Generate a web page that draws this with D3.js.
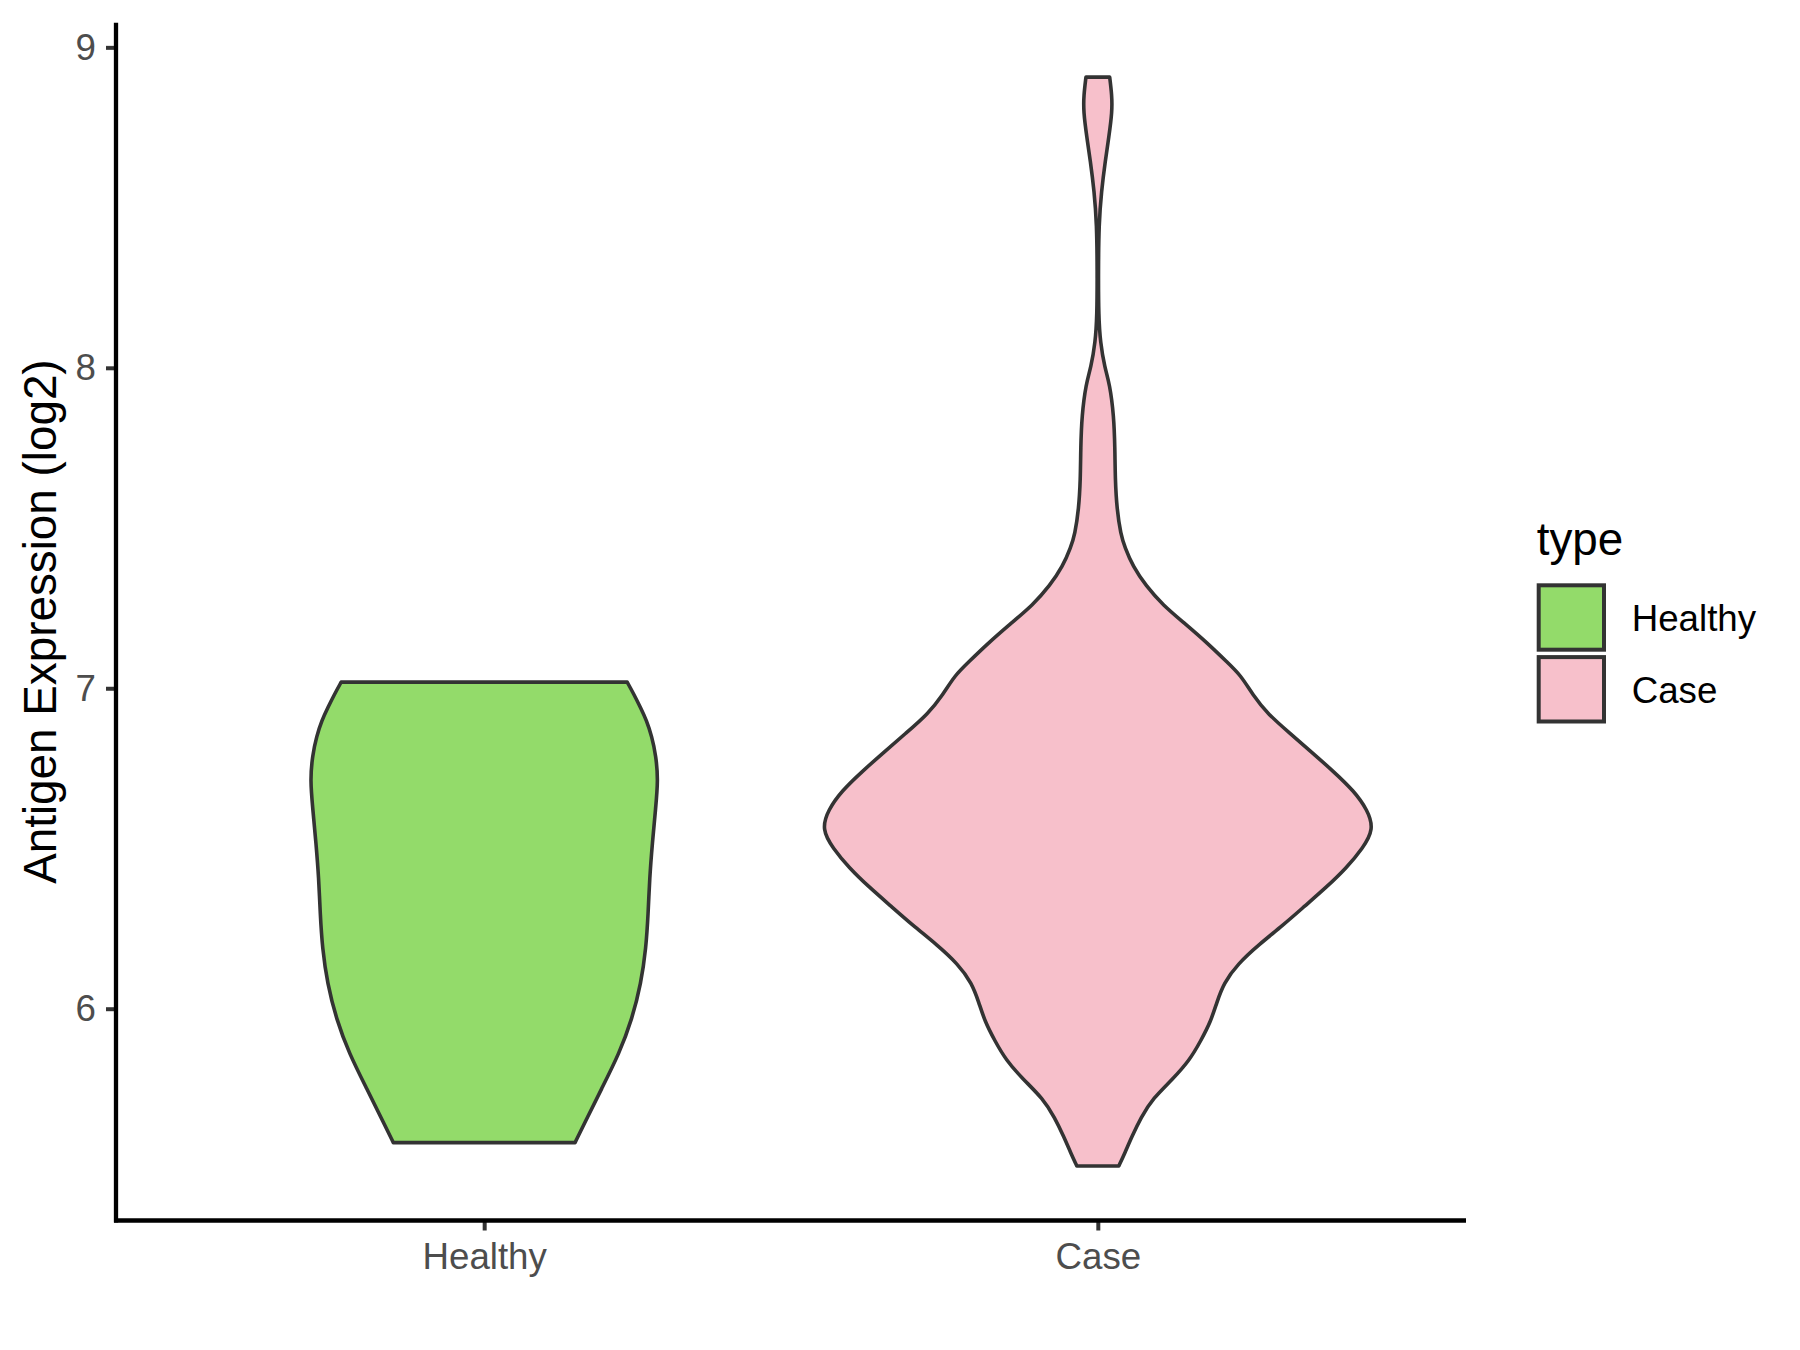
<!DOCTYPE html>
<html>
<head>
<meta charset="utf-8">
<script src="https://cdn.jsdelivr.net/npm/d3@7"></script>
<style>
  body { margin: 0; background: #fff; }
  text { font-family: "Liberation Sans", Arial, sans-serif; }
</style>
</head>
<body>
<svg id="canvas" width="1800" height="1350"></svg>
<script>
// groups on the x axis
const groups = ["Healthy", "Case"];
const fills = ["#93DB6A", "#F7C0CB"];

// violin outlines: expression value and relative half width
const healthyY = [7.019, 6.98, 6.94, 6.9, 6.85, 6.79, 6.714, 6.626, 6.517, 6.407, 6.298, 6.188, 6.079, 5.969, 5.86, 5.75, 5.64, 5.582];
const healthyW = [0.518, 0.543, 0.566, 0.588, 0.607, 0.622, 0.630, 0.621, 0.609, 0.599, 0.594, 0.586, 0.568, 0.536, 0.489, 0.425, 0.362, 0.329];

const caseY = [8.907, 8.85, 8.8, 8.72, 8.646, 8.55, 8.45, 8.3, 8.16, 8.08, 8.0, 7.95, 7.85, 7.75, 7.65, 7.56, 7.48, 7.44, 7.38, 7.32, 7.26, 7.2, 7.14, 7.08, 7.04, 6.98, 6.92, 6.86, 6.8, 6.74, 6.68, 6.62, 6.56, 6.5, 6.44, 6.38, 6.32, 6.26, 6.2, 6.14, 6.08, 6.02, 5.96, 5.9, 5.84, 5.78, 5.72, 5.66, 5.6, 5.55, 5.509];
const caseW = [0.043, 0.051, 0.052, 0.040, 0.027, 0.013, 0.004, 0.002, 0.003, 0.009, 0.025, 0.043, 0.058, 0.062, 0.063, 0.069, 0.083, 0.098, 0.127, 0.174, 0.235, 0.318, 0.398, 0.470, 0.518, 0.561, 0.615, 0.695, 0.775, 0.854, 0.927, 0.977, 1.0, 0.959, 0.901, 0.829, 0.749, 0.670, 0.583, 0.507, 0.456, 0.431, 0.409, 0.373, 0.333, 0.271, 0.199, 0.156, 0.123, 0.098, 0.076];

const yTicks = [6, 7, 8, 9];

const panel = {left: 116, right: 1466, top: 22.7, bottom: 1220.5};
const svg = d3.select("#canvas");

// pack outlines per group
const violins = [
  {name: "Healthy", pts: healthyY.map((v, i) => ({v: v, w: healthyW[i]}))},
  {name: "Case", pts: caseY.map((v, i) => ({v: v, w: caseW[i]}))}
];

// y range padded by 5% like ggplot
const allY = healthyY.concat(caseY);
const ymin = d3.min(allY), ymax = d3.max(allY);
const pad = (ymax - ymin) * 0.05;
var yscale = d3.scaleLinear().domain([ymin - pad, ymax + pad]).range([panel.bottom, panel.top]);
var xscale = d3.scalePoint().domain(groups).range([panel.left, panel.right]).padding(0.6);
var color = d3.scaleOrdinal().domain(groups).range(fills);
// half width of widest violin = 0.45 of the step
var wscale = d3.scaleLinear().domain([0, 1]).range([0, xscale.step() * 0.45]);

// violins
const area = d3.area()
  .y(d => yscale(d.v))
  .curve(d3.curveBasis);

svg.append("g").selectAll("path")
  .data(violins)
  .enter()
  .append("path")
    .attr("d", g => area
      .x0(d => xscale(g.name) - wscale(d.w))
      .x1(d => xscale(g.name) + wscale(d.w))(g.pts))
    .attr("fill", g => color(g.name))
    .attr("stroke", "#333333")
    .attr("stroke-width", 3.6)
    .attr("stroke-linejoin", "round");

// y axis
var y_axis = d3.axisLeft(yscale).tickValues(yTicks).tickSize(10).tickPadding(10).tickFormat(d3.format("d"));
var gy = svg.append("g")
  .attr("transform", "translate(" + panel.left + ",0)")
  .call(y_axis);
gy.select(".domain").remove();
gy.selectAll(".tick line").attr("stroke", "#333333").attr("stroke-width", 4);
gy.selectAll(".tick text").attr("fill", "#4D4D4D").style("font-size", "36.7px");

// x axis
var x_axis = d3.axisBottom(xscale).tickSize(10).tickPadding(12);
var gx = svg.append("g")
  .attr("transform", "translate(0," + panel.bottom + ")")
  .call(x_axis);
gx.select(".domain").remove();
gx.selectAll(".tick line").attr("stroke", "#333333").attr("stroke-width", 4);
gx.selectAll(".tick text").attr("fill", "#4D4D4D").style("font-size", "36.7px");

// axis lines
svg.append("line")
  .attr("x1", panel.left).attr("x2", panel.left)
  .attr("y1", panel.top).attr("y2", panel.bottom + 2)
  .attr("stroke", "#000").attr("stroke-width", 4.3);
svg.append("line")
  .attr("x1", panel.left - 2).attr("x2", panel.right)
  .attr("y1", panel.bottom).attr("y2", panel.bottom)
  .attr("stroke", "#000").attr("stroke-width", 4.3);

// y title
svg.append("text")
  .attr("transform", "translate(56," + (panel.top + panel.bottom) / 2 + ") rotate(-90)")
  .attr("text-anchor", "middle")
  .style("font-size", "45.8px")
  .attr("fill", "#000")
  .text("Antigen Expression (log2)");

// legend
const legend = svg.append("g").attr("transform", "translate(1536.7,0)");
legend.append("text")
  .attr("x", 0).attr("y", 555)
  .style("font-size", "45.8px")
  .text("type");

const keys = legend.selectAll("g.key")
  .data(groups)
  .enter()
  .append("g")
    .attr("class", "key")
    .attr("transform", (d, i) => "translate(0," + (583.3 + i * 71.8) + ")");
keys.append("rect")
  .attr("x", 2).attr("y", 2)
  .attr("width", 65.3).attr("height", 64.4)
  .attr("fill", d => color(d))
  .attr("stroke", "#333333")
  .attr("stroke-width", 4);
keys.append("text")
  .attr("x", 95).attr("y", 47.5)
  .style("font-size", "36.7px")
  .attr("fill", "#000")
  .text(d => d);
</script>
</body>
</html>
